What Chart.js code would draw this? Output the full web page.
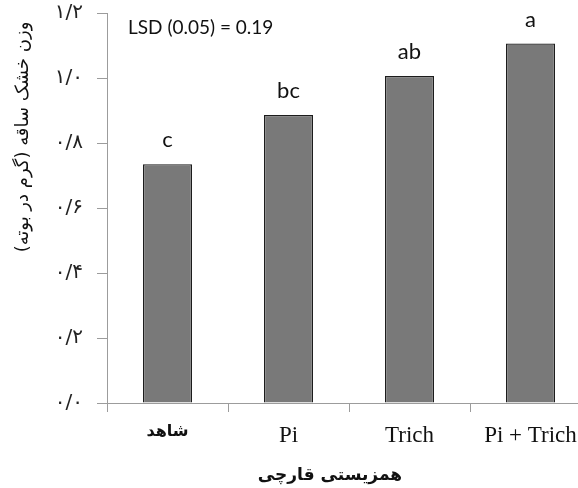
<!DOCTYPE html>
<html>
<head>
<meta charset="utf-8">
<script src="https://cdn.jsdelivr.net/npm/chart.js@4"></script>
<style>
  html, body { margin: 0; padding: 0; background: #fff; overflow: hidden; }
  #wrap { width: 600px; height: 488px; }
</style>
</head>
<body>
<div id="wrap"><canvas id="chart" width="600" height="488"></canvas></div>
<script>
const categories = ["شاهد", "Pi", "Trich", "Pi + Trich"];
const dryWeight = [0.735, 0.886, 1.006, 1.106];
const letters = ["c", "bc", "ab", "a"];
const yTickLabels = ["۰/۰", "۰/۲", "۰/۴", "۰/۶", "۰/۸", "۱/۰", "۱/۲"];
const yTitle = "وزن خشک ساقه (گرم در بوته)";
const xTitle = "همزیستی قارچی";
const lsdNote = "LSD (0.05) = 0.19";

const axisGray = "#9c9c9c";

// letters over bars, LSD note and both axis titles
const notes = {
  id: "notes",
  afterDatasetsDraw(chart) {
    const c = chart.ctx;
    const bars = chart.getDatasetMeta(0).data;
    c.save();
    c.fillStyle = "#111";
    c.font = "22px Lato";
    c.textAlign = "center";
    c.textBaseline = "alphabetic";
    bars.forEach((bar, i) => {
      c.fillText(letters[i], bar.x, bar.y - 17);
    });

    c.font = "19px Lato";
    c.textAlign = "left";
    c.textBaseline = "middle";
    c.fillText(lsdNote, 128, 28);

    c.direction = "rtl";
    c.textAlign = "center";
    c.font = "18px 'DejaVu Sans'";
    c.translate(23, 137);
    c.rotate(-Math.PI / 2);
    c.fillText(yTitle, 0, 0);
    c.restore();

    c.save();
    c.direction = "rtl";
    c.fillStyle = "#111";
    c.textAlign = "center";
    c.textBaseline = "middle";
    c.font = "bold 17px 'DejaVu Sans'";
    c.fillText(xTitle, 330, 476);
    c.restore();
  },
};

const ctx = document.getElementById("chart").getContext("2d");
const chart = new Chart(ctx, {
  type: "bar",
  data: {
    labels: categories,
    datasets: [
      {
        data: dryWeight,
        backgroundColor: "#797979",
        borderColor: "#1c1c1c",
        borderWidth: 1.3,
        categoryPercentage: 1,
        barPercentage: 0.405,
      },
    ],
  },
  options: {
    responsive: false,
    devicePixelRatio: 1,
    animation: false,
    layout: { padding: { top: 13, right: 9, left: 0, bottom: 0 } },
    plugins: {
      legend: { display: false },
      tooltip: { enabled: false },
    },
    scales: {
      x: {
        grid: {
          offset: true,
          drawOnChartArea: false,
          drawTicks: true,
          tickLength: 9,
          color: axisGray,
        },
        border: { color: axisGray, width: 1 },
        ticks: {
          padding: 10,
          color: "#111",
          font: (c) =>
            c.index === 0
              ? { family: "DejaVu Sans", size: 16, weight: "bold" }
              : { family: "Liberation Serif", size: 23 },
        },
        afterFit(scale) {
          scale.height = 85;
          scale.paddingLeft = 0;
          scale.paddingRight = 0;
        },
      },
      y: {
        min: 0,
        max: 1.2,
        grid: {
          drawOnChartArea: false,
          tickLength: 10,
          color: axisGray,
        },
        border: { color: axisGray, width: 1 },
        ticks: {
          stepSize: 0.2,
          padding: 14,
          color: "#222",
          font: { family: "DejaVu Sans", size: 20 },
          callback: (v, i) => yTickLabels[i],
        },
        afterFit(scale) {
          scale.width = 107;
          scale.paddingTop = 0;
          scale.paddingBottom = 0;
        },
      },
    },
  },
  plugins: [notes],
});
</script>
</body>
</html>
